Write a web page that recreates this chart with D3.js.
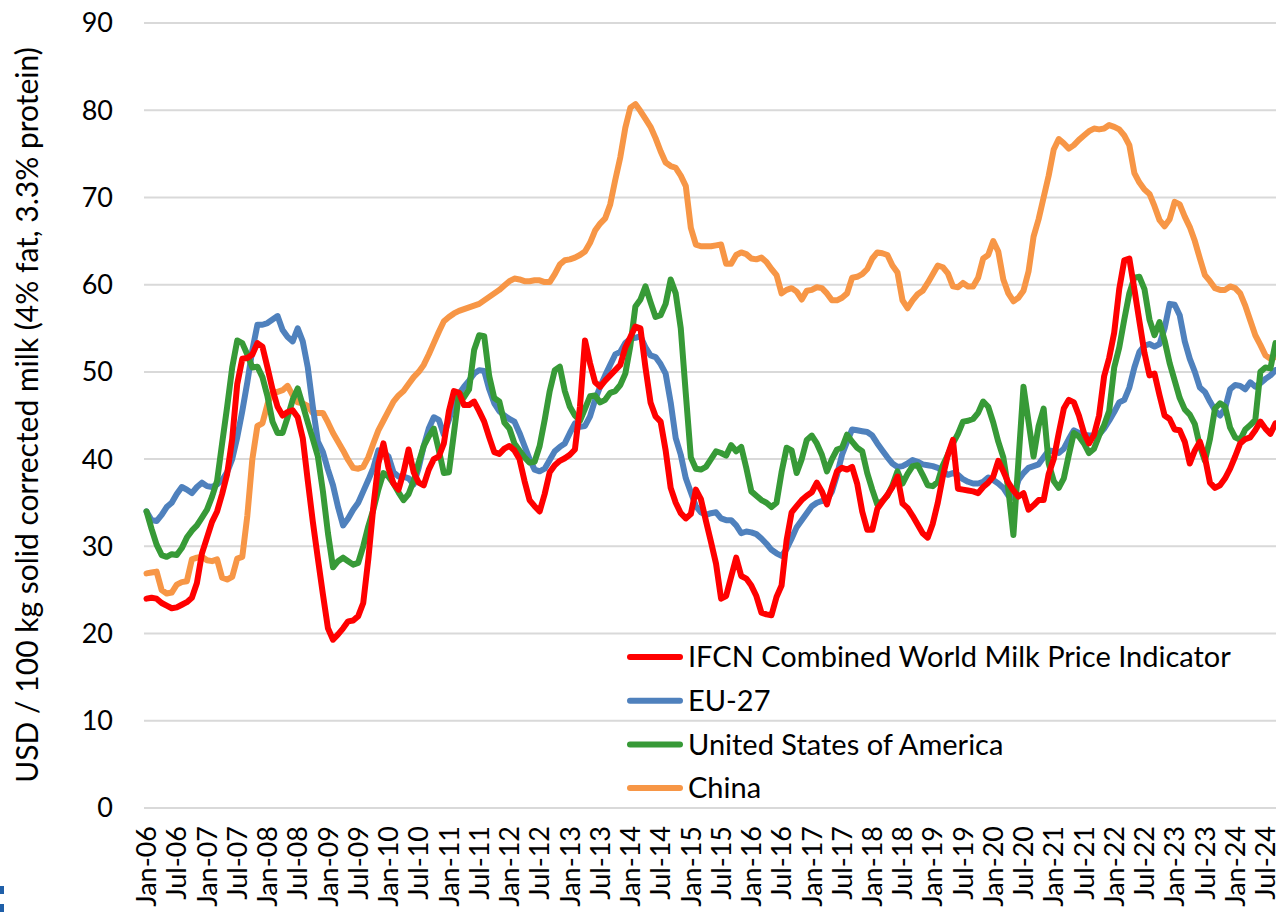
<!DOCTYPE html>
<html>
<head>
<meta charset="utf-8">
<script src="https://cdn.jsdelivr.net/npm/d3@7"></script>
<style>
  body { margin: 0; background: #fff; }
  svg { display: block; font-family: Lato, "Open Sans", sans-serif; }
</style>
</head>
<body>
<div id="chart"></div>
<script>
// monthly values, Jan-06 .. Sep-24, USD / 100 kg ECM
var ifcn = [
  24.0, 24.1, 24.0, 23.5, 23.2, 22.9, 23.0, 23.3, 23.6, 24.1, 25.8, 29.2,
  31.0, 32.8, 34.0, 36.0, 38.3, 42.3, 48.6, 51.5, 51.6, 52.0, 53.3, 52.9,
  50.5, 48.0, 46.0, 45.0, 45.4, 45.6, 44.8, 42.4, 37.5, 32.8, 28.6, 24.5,
  20.6, 19.3, 19.9, 20.6, 21.4, 21.5, 22.0, 23.5, 28.5, 34.5, 39.5, 41.8,
  39.0, 37.2, 36.5, 38.5, 41.1, 38.5, 37.3, 37.0, 38.8, 40.0, 40.3, 41.8,
  45.5, 47.8, 47.6, 46.2, 46.2, 46.6, 45.5, 44.3, 42.5, 40.8, 40.6, 41.2,
  41.5, 41.0, 40.0, 37.5, 35.3, 34.6, 34.0, 36.0, 38.5, 39.3, 39.8, 40.1,
  40.5, 41.1, 46.0, 53.6, 51.0, 48.8, 48.3, 49.0, 49.6, 50.2, 50.8, 52.8,
  54.0, 55.2, 55.0, 50.5, 46.5, 44.9, 44.3, 41.0, 36.7, 35.0, 33.8, 33.2,
  33.7, 36.5, 35.4, 32.9, 30.5, 28.0, 24.0, 24.3, 26.5, 28.7, 26.6, 26.3,
  25.5, 24.3, 22.4, 22.2, 22.1, 24.2, 25.5, 30.7, 33.9, 34.6, 35.3, 35.8,
  36.2, 37.3, 36.3, 34.8, 36.8, 38.6, 39.0, 38.8, 39.1, 37.2, 34.0, 31.9,
  31.9, 34.3, 35.1, 35.9, 36.8, 38.0, 34.9, 34.4, 33.5, 32.5, 31.5, 31.0,
  32.6, 35.0, 38.0, 40.5, 42.2, 36.6, 36.5, 36.4, 36.3, 36.1, 36.8, 37.3,
  38.0, 39.8, 38.6, 37.3, 36.4, 35.7, 36.1, 34.2, 34.7, 35.3, 35.3, 38.3,
  40.0, 43.0, 45.8, 46.8, 46.5, 45.0, 43.0, 41.8, 42.8, 45.0, 49.5, 51.6,
  54.5, 59.5, 62.8, 63.0, 59.5, 55.8, 52.2, 49.6, 49.8, 47.3, 45.0, 44.6,
  43.4, 43.3, 42.0, 39.5, 41.0, 42.0, 40.2, 37.3, 36.7, 37.0, 37.8, 38.9,
  40.3, 41.8, 42.3, 42.5, 43.3, 44.3, 43.5, 42.9, 44.1
];

var eu27 = [
  34.0, 33.0, 32.9, 33.6, 34.5, 35.0, 36.0, 36.8, 36.5, 36.1, 36.8, 37.3,
  36.9, 36.8, 37.1, 37.6, 38.5, 40.0, 42.5, 45.5, 48.8, 52.5, 55.4, 55.4,
  55.6, 56.0, 56.4, 54.8, 54.0, 53.5, 55.0, 53.5, 50.5, 46.0, 42.0, 40.8,
  38.8, 37.0, 34.5, 32.4, 33.2, 34.2, 35.0, 36.3, 37.6, 39.0, 41.0, 40.8,
  40.3, 38.5, 38.0, 38.0, 37.8, 37.1, 39.0, 41.5, 43.5, 44.8, 44.5, 42.8,
  44.5, 46.5, 47.5, 48.3, 49.0, 49.8, 50.2, 50.1, 48.0, 46.4, 45.5, 45.0,
  44.6, 44.3, 43.0, 41.5, 40.0, 38.8, 38.6, 38.9, 39.9, 40.9, 41.4, 41.8,
  43.0, 44.1, 43.7, 43.8, 44.9, 46.8, 48.3, 49.6, 50.8, 52.0, 52.3, 53.3,
  53.8, 53.9, 54.1, 52.8, 51.9, 51.7, 50.9, 49.8, 46.5, 42.4, 40.5, 37.8,
  36.2, 34.6, 33.9, 33.6, 33.8, 33.9, 33.2, 33.0, 33.0, 32.4, 31.5, 31.7,
  31.6, 31.4, 30.9, 30.3, 29.6, 29.2, 28.9, 29.7, 30.9, 32.2, 33.0, 33.8,
  34.6, 35.0, 35.2, 35.3, 36.3, 38.2, 40.5, 42.0, 43.4, 43.3, 43.2, 43.1,
  42.7, 41.8, 41.0, 40.2, 39.5, 39.1, 39.2, 39.5, 39.9, 39.7, 39.4, 39.3,
  39.2, 39.0, 38.6, 38.2, 38.4, 38.2, 37.7, 37.4, 37.2, 37.2, 37.4, 37.9,
  37.6, 37.2, 36.7, 35.8, 35.6, 37.6, 38.4, 39.0, 39.2, 39.4, 40.2, 41.0,
  40.9, 40.7, 41.2, 42.3, 43.3, 43.0, 42.8, 42.7, 42.7, 42.8, 43.5, 44.4,
  45.4, 46.5, 46.8, 48.2, 50.5, 52.3, 53.0, 53.2, 52.9, 53.2, 55.0, 57.8,
  57.7, 56.5, 53.5, 51.5, 50.0, 48.2, 47.7, 46.6, 45.6, 45.0, 45.8, 48.0,
  48.5, 48.4, 48.0, 48.8, 48.3, 48.7, 49.2, 49.6, 50.2
];

var usa = [
  34.0, 32.0, 30.2, 29.0, 28.8, 29.1, 29.0, 29.8, 31.0, 31.8, 32.4, 33.3,
  34.2, 35.7, 37.5, 41.8, 46.0, 50.5, 53.6, 53.3, 52.0, 50.5, 50.6, 49.4,
  47.2, 44.3, 43.0, 43.0, 44.8, 46.8, 48.1, 46.2, 44.2, 42.3, 40.3, 36.3,
  31.5, 27.6, 28.3, 28.7, 28.3, 27.9, 28.1, 30.0, 32.3, 34.2, 36.5, 38.4,
  38.0, 37.2, 36.2, 35.3, 36.0, 37.5, 39.6, 41.5, 42.6, 43.5, 41.0, 38.4,
  38.5, 43.0, 47.6, 47.1, 48.0, 52.5, 54.2, 54.1, 49.5, 47.0, 46.6, 44.2,
  43.5, 41.8, 41.0, 40.2, 39.6, 39.7, 41.5, 44.5, 47.8, 50.2, 50.6, 47.8,
  46.0, 45.0, 44.4, 45.8, 47.2, 47.3, 46.5, 46.8, 47.6, 47.8, 48.5, 49.8,
  53.0, 57.5, 58.3, 59.8, 58.0, 56.3, 56.5, 57.8, 60.6, 59.0, 55.0, 47.5,
  40.2, 38.9, 38.8, 39.1, 40.0, 40.9, 40.7, 40.4, 41.6, 40.9, 41.4, 39.0,
  36.3, 35.8, 35.3, 35.0, 34.5, 35.0, 38.5, 41.3, 41.0, 38.4, 40.0, 42.2,
  42.7, 41.8, 40.5, 38.6, 40.0, 41.1, 41.3, 42.8, 42.0, 41.3, 40.9, 38.4,
  36.5, 34.8, 35.2, 35.8, 37.0, 38.6, 37.2, 38.3, 39.2, 39.3, 38.2, 37.0,
  36.9, 37.4, 39.3, 40.5, 41.8, 42.9, 44.3, 44.4, 44.6, 45.3, 46.6, 46.0,
  44.2, 42.0, 40.2, 36.5, 31.3, 39.8, 48.3, 44.3, 40.3, 43.8, 45.8, 39.5,
  37.5, 36.7, 37.8, 40.5, 43.0, 42.6, 41.8, 40.7, 41.2, 42.7, 43.9, 45.5,
  50.5, 52.8, 56.0, 59.0, 60.8, 60.9, 59.5, 56.0, 54.2, 55.7, 53.6, 51.0,
  49.0, 47.0, 45.7, 45.1, 44.0, 41.5, 39.8, 42.3, 45.8, 46.4, 46.0, 43.6,
  42.5, 42.2, 43.4, 43.9, 44.5, 50.0, 50.5, 50.4, 53.3
];

var china = [
  26.9, 27.0, 27.1, 25.0, 24.6, 24.7, 25.6, 25.9, 26.0, 28.5, 28.7, 28.8,
  28.4, 28.3, 28.5, 26.4, 26.2, 26.5, 28.6, 28.8, 33.5, 40.0, 43.8, 44.1,
  46.3, 47.7, 47.7, 47.9, 48.4, 47.3, 46.5, 46.4, 46.1, 45.3, 45.3, 45.3,
  44.2, 43.0, 42.0, 41.0, 39.9, 39.0, 38.9, 39.1, 40.2, 41.8, 43.3, 44.4,
  45.5, 46.6, 47.3, 47.8, 48.6, 49.4, 50.0, 50.8, 52.0, 53.3, 54.6, 55.8,
  56.3, 56.7, 57.0, 57.2, 57.4, 57.6, 57.8, 58.2, 58.6, 59.0, 59.4, 59.9,
  60.4, 60.7, 60.6, 60.4, 60.4, 60.5, 60.5, 60.3, 60.3, 61.2, 62.3, 62.8,
  62.9, 63.1, 63.4, 63.8, 64.8, 66.2, 67.0, 67.6, 69.2, 72.0, 74.6, 78.0,
  80.3, 80.7, 79.9, 79.0, 78.1, 76.8, 75.3, 74.0, 73.6, 73.4, 72.5, 71.3,
  66.5, 64.6, 64.4, 64.4, 64.4, 64.5, 64.6, 62.4, 62.4, 63.4, 63.7, 63.5,
  63.0, 62.9, 63.1, 62.6, 61.8, 61.1, 59.0, 59.4, 59.6, 59.2, 58.3, 59.3,
  59.4, 59.7, 59.6, 59.0, 58.2, 58.2, 58.5, 59.0, 60.8, 60.9, 61.2, 61.8,
  63.0, 63.7, 63.6, 63.4, 62.2, 61.4, 58.2, 57.3, 58.2, 58.9, 59.3, 60.2,
  61.2, 62.2, 62.0, 61.3, 59.8, 59.7, 60.2, 59.8, 59.8, 60.8, 63.0, 63.4,
  65.0, 63.8, 60.6, 59.0, 58.1, 58.5, 59.3, 61.5, 65.5, 67.5, 70.0, 72.5,
  75.5, 76.7, 76.2, 75.6, 76.0, 76.6, 77.1, 77.6, 77.9, 77.8, 77.9, 78.3,
  78.1, 77.8, 77.1, 76.0, 72.8, 71.7, 70.9, 70.4, 69.0, 67.4, 66.7, 67.5,
  69.5, 69.2, 67.8, 66.6, 65.0, 63.0, 61.1, 60.4, 59.6, 59.4, 59.4, 59.8,
  59.6, 59.0, 57.6, 55.9, 54.2, 53.1, 51.9, 51.5, 51.7
];

var seriesNames = ["IFCN Combined World Milk Price Indicator", "EU-27", "United States of America", "China"];
var seriesColors = ["#ff0000", "#4f81bd", "#379a37", "#f79646"];
var yTicks = [0, 10, 20, 30, 40, 50, 60, 70, 80, 90];
var months = d3.timeMonth.range(new Date(2006, 0, 1), new Date(2024, 9, 1));
var fmtMonth = d3.timeFormat("%b-%y");

var width = 1276, height = 912,
  plotLeft = 144, step = 5.04;

var svg = d3.select("#chart").append("svg")
  .attr("width", width)
  .attr("height", height);

var x = d3.scaleBand()
  .domain(months.map(function(d, i) { return i; }))
  .range([plotLeft, plotLeft + months.length * step]);

var y = d3.scaleLinear()
  .domain([0, 90])
  .range([808, 23]);

function cx(i) { return x(i) + x.bandwidth() / 2; }

// gridlines
svg.append("g")
  .selectAll("line")
  .data(yTicks)
  .enter().append("line")
  .attr("x1", plotLeft)
  .attr("x2", plotLeft + months.length * step)
  .attr("y1", function(d) { return y(d); })
  .attr("y2", function(d) { return y(d); })
  .attr("stroke", "#d9d9d9")
  .attr("stroke-width", 2);

// y tick labels
svg.append("g")
  .selectAll("text")
  .data(yTicks)
  .enter().append("text")
  .attr("x", 113)
  .attr("y", function(d) { return y(d); })
  .attr("dy", "0.35em")
  .attr("text-anchor", "end")
  .attr("font-size", 27)
  .attr("fill", "#000")
  .text(function(d) { return d; });

// x tick labels, every 6 months
svg.append("g")
  .selectAll("text")
  .data(months.filter(function(d) { return d.getMonth() % 6 === 0; }))
  .enter().append("text")
  .attr("transform", function(d) {
    var i = months.indexOf(d);
    return "translate(" + cx(i) + ",826) rotate(-90)";
  })
  .attr("dy", "0.36em")
  .attr("text-anchor", "end")
  .attr("font-size", 27)
  .attr("fill", "#000")
  .text(function(d) { return fmtMonth(d); });

// y axis title
svg.append("text")
  .attr("transform", "translate(38,415) rotate(-90)")
  .attr("text-anchor", "middle")
  .attr("font-size", 30)
  .attr("fill", "#000")
  .text("USD / 100 kg solid corrected milk (4% fat, 3.3% protein)");

var line = d3.line()
  .x(function(d, i) { return cx(i); })
  .y(function(d) { return y(d); });

var allSeries = [ifcn, eu27, usa, china];

// draw China first so the others sit on top, IFCN last
[3, 1, 2, 0].forEach(function(k) {
  svg.append("path")
    .datum(allSeries[k])
    .attr("fill", "none")
    .attr("stroke", seriesColors[k])
    .attr("stroke-width", 6)
    .attr("stroke-linejoin", "round")
    .attr("stroke-linecap", "round")
    .attr("d", line);
});

// legend
var legend = svg.append("g")
  .selectAll("g")
  .data(seriesNames)
  .enter().append("g")
  .attr("transform", function(d, i) { return "translate(0," + (657 + i * 43.7) + ")"; });

legend.append("line")
  .attr("x1", 630)
  .attr("x2", 680)
  .attr("stroke", function(d, i) { return seriesColors[i]; })
  .attr("stroke-width", 6)
  .attr("stroke-linecap", "round");

legend.append("text")
  .attr("x", 688)
  .attr("dy", "0.35em")
  .attr("font-size", 29)
  .attr("fill", "#000")
  .text(function(d) { return d; });

// cropped logo fragment in the corner
svg.append("rect").attr("x", 0).attr("y", 886).attr("width", 4).attr("height", 8).attr("fill", "#1f5fa8");
svg.append("rect").attr("x", 0).attr("y", 904).attr("width", 4).attr("height", 8).attr("fill", "#1f5fa8");
</script>
</body>
</html>
